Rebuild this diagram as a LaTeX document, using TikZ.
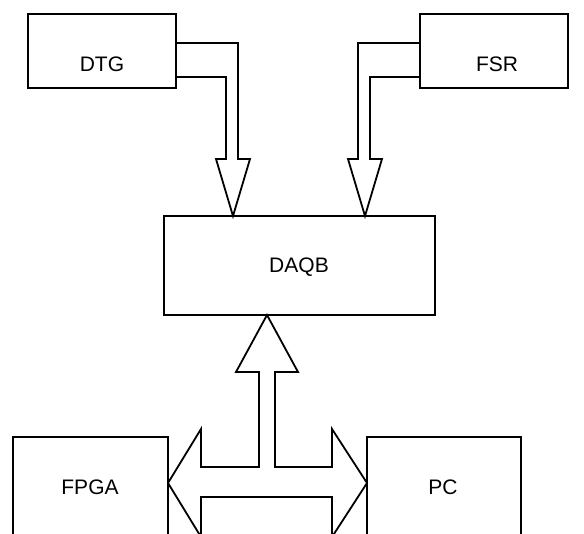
\documentclass[tikz,border=0pt]{standalone}
\usepackage{fontspec}
\setmainfont{Liberation Sans}
\begin{document}
\begin{tikzpicture}[x=1pt,y=-1pt,
  box/.style={draw,line width=1.8pt,inner sep=0pt,outer sep=0pt},
  lbl/.style={inner sep=0pt,font=\fontsize{21}{25}\selectfont},
  pipe/.style={draw,fill=white,line width=1.8pt,line join=miter}]
\useasboundingbox (0,0) rectangle (584,534);
\clip (0,0) rectangle (584,534);
% boxes
\node[box,minimum width=148pt,minimum height=74pt] (dtg) at (102,51) {};
\node[lbl] (dtgl) at (102,64) {DTG};
\node[box,minimum width=148pt,minimum height=74pt] (fsr) at (494,51) {};
\node[lbl] (fsrl) at (497,64) {FSR};
\node[box,minimum width=271pt,minimum height=99pt] (daqb) at (299.5,265.5) {};
\node[lbl] (daqbl) at (299,267) {DAQB};
\node[box,minimum width=155pt,minimum height=163pt] (fpga) at (90.5,518.5) {};
\node[lbl] (fpgal) at (90,487) {FPGA};
\node[box,minimum width=154pt,minimum height=163pt] (pc) at (444,518.5) {};
\node[lbl] (pcl) at (443,487) {PC};
% DTG -> DAQB
\draw[pipe] (dtg.east |- 0,43) -- (238,43) -- (238,159) -- (250,159)
  -- (233,0 |- daqb.north) -- (216,159) -- (226,159) -- (226,77) -- (dtg.east |- 0,77) -- cycle;
% FSR -> DAQB
\draw[pipe] (fsr.west |- 0,43) -- (358,43) -- (358,159) -- (348,159)
  -- (365,0 |- daqb.north) -- (382,159) -- (370,159) -- (370,77) -- (fsr.west |- 0,77) -- cycle;
% DAQB <-> FPGA, PC
\draw[pipe] (267,0 |- daqb.south) -- (298,372) -- (275,372) -- (275,467) -- (332,467)
  -- (332,429) -- (pc.west |- 0,483) -- (332,537) -- (332,497) -- (201,497)
  -- (201,537) -- (fpga.east |- 0,483) -- (201,429) -- (201,467) -- (259,467)
  -- (259,372) -- (236,372) -- cycle;
\end{tikzpicture}
\end{document}
